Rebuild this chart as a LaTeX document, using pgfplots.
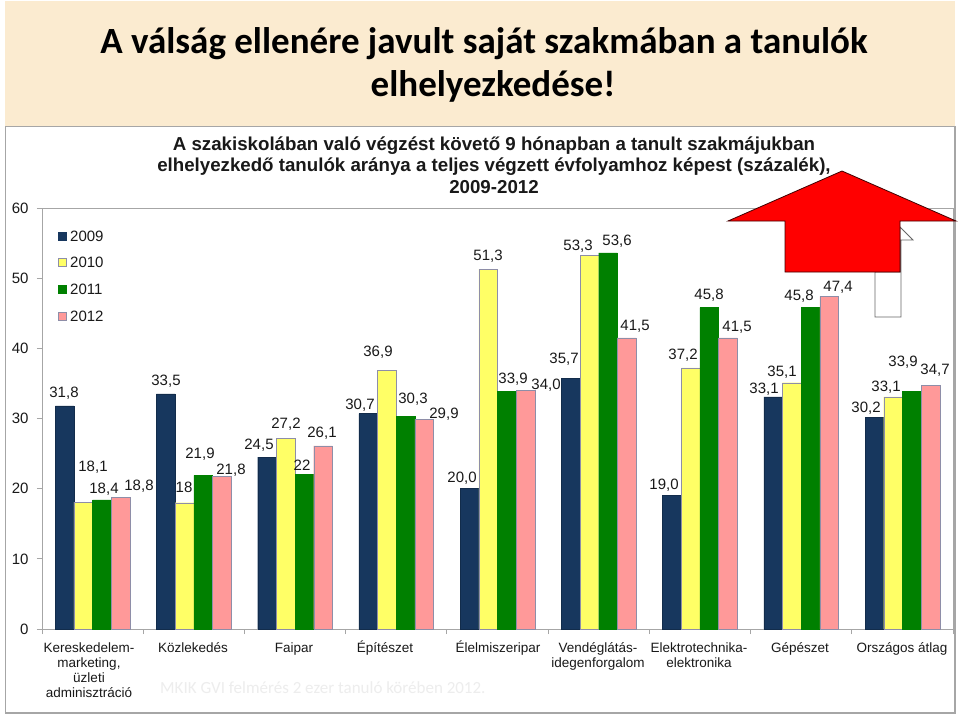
\documentclass[border=0pt]{standalone}
\usepackage{pgfplots}
\pgfplotsset{compat=1.18}
\usepackage{fontspec}
\setmainfont{Liberation Sans}
\newfontfamily\carlito{Carlito}
\definecolor{navy}{HTML}{17375E}
\definecolor{yel}{HTML}{FFFF66}
\definecolor{grn}{HTML}{008000}
\definecolor{pnk}{HTML}{FF9999}
\definecolor{band}{HTML}{FBEBD0}
\definecolor{edge}{HTML}{8E8EA8}
\pgfplotstableread{
x y09 y10 y11 y12
0 31.8 18.1 18.4 18.8
1 33.5 18.0 21.9 21.8
2 24.5 27.2 22.0 26.1
3 30.7 36.9 30.3 29.9
4 20.0 51.3 33.9 34.0
5 35.7 53.3 53.6 41.5
6 19.0 37.2 45.8 41.5
7 33.1 35.1 45.8 47.4
8 30.2 33.1 33.9 34.7
}\datatable
\newcommand{\lab}[3]{\node[font=\fontsize{15}{15}\selectfont,anchor=center,inner sep=0pt,text=black!90] at (#1,#2) {#3};}
\newcommand{\cat}[3]{\node[font=\fontsize{13.5}{15}\selectfont,anchor=north,align=center,inner sep=0pt,text=black!90] at (#1,#2) {\rule{0pt}{13pt}#3};}
\begin{document}
\begin{tikzpicture}[x=1pt,y=-1pt]
\useasboundingbox (0,0) rectangle (960,716);
\fill[white] (0,0) rectangle (960,716);
\fill[band] (5,1) rectangle (955,126);
\draw[gray!70,line width=1.2pt] (5.5,713) -- (5.5,126.5) -- (955,126.5) -- (955,713) -- cycle;
\node[font=\carlito\bfseries\fontsize{37}{43}\selectfont,align=center,text=black] at (484,64.5) {A válság ellenére javult saját szakmában a tanulók\\\hspace*{18pt}elhelyezkedése!};
\node[font=\bfseries\fontsize{18.7}{21.5}\selectfont,align=center,text=black!90] at (494,165) {A szakiskolában való végzést követő 9 hónapban a tanult szakmájukban\\elhelyezkedő tanulók aránya a teljes végzett évfolyamhoz képest (százalék),\\2009-2012};
\begin{axis}[
  at={(42pt,-629pt)},anchor=south west,
  scale only axis,width=911pt,height=421pt,
  xmin=-0.5,xmax=8.5,ymin=0,ymax=60,
  ybar,bar width=18.7pt,
  ytick={0,10,...,60},xtick={-0.5,0.5,...,8.5},xticklabels={},
  axis line style={gray!70,line width=0.8pt},
  tick style={gray!70,line width=0.8pt},
  tick align=outside,major tick length=5pt,
  xtick pos=bottom,ytick pos=left,
  yticklabel style={font=\fontsize{15}{15}\selectfont,text=black!90,xshift=-5pt},
  /pgf/number format/assume math mode=true,
  clip=false,
]
\addplot[ybar,bar shift=-28pt,fill=navy,draw=navy!80!black] table[x=x,y=y09] {\datatable};
\addplot[ybar,bar shift=-9.35pt,fill=yel,draw=edge] table[x=x,y=y10] {\datatable};
\addplot[ybar,bar shift=9.35pt,fill=grn,draw=grn] table[x=x,y=y11] {\datatable};
\addplot[ybar,bar shift=28pt,fill=pnk,draw=edge] table[x=x,y=y12] {\datatable};
\end{axis}
% legend
\foreach \yy/\cc/\dd/\nn in {236/navy/navy/2009,262/yel/edge/2010,289/grn/grn/2011,316/pnk/edge/2012}{
  \filldraw[fill=\cc,draw=\dd] (58.5,\yy-4) rectangle (66.5,\yy+4);
  \node[font=\fontsize{15}{15}\selectfont,anchor=west,inner sep=0pt,text=black!90] at (70,\yy) {\nn};
}
% value labels
\lab{64}{393}{31,8}\lab{93}{467}{18,1}\lab{104}{489}{18,4}\lab{139}{486}{18,8}
\lab{166}{381}{33,5}\lab{184}{487}{18}\lab{200}{454}{21,9}\lab{231}{470}{21,8}
\lab{259}{445}{24,5}\lab{286}{424}{27,2}\lab{302}{465}{22}\lab{322}{433}{26,1}
\lab{360}{405}{30,7}\lab{378}{352}{36,9}\lab{413}{399}{30,3}\lab{444}{414}{29,9}
\lab{462}{478}{20,0}\lab{488}{256}{51,3}\lab{513}{379}{33,9}\lab{546}{385}{34,0}
\lab{564}{359}{35,7}\lab{578}{246}{53,3}\lab{617}{241}{53,6}\lab{635}{326}{41,5}
\lab{664}{485}{19,0}\lab{683}{355}{37,2}\lab{709}{295}{45,8}\lab{737}{327}{41,5}
\lab{764}{389}{33,1}\lab{782}{372}{35,1}\lab{799}{296}{45,8}\lab{838}{287}{47,4}
\lab{866}{408}{30,2}\lab{886}{387}{33,1}\lab{903}{362}{33,9}\lab{935}{370}{34,7}
% category labels
\cat{89}{639}{Kereskedelem-\\marketing,\\üzleti\\adminisztráció}
\cat{193}{639}{Közlekedés}\cat{294}{639}{Faipar}\cat{385}{639}{Építészet}\cat{498}{639}{Élelmiszeripar}
\cat{598}{639}{Vendéglátás-\\idegenforgalom}\cat{699}{639}{Elektrotechnika-\\elektronika}\cat{800}{639}{Gépészet}\cat{902}{639}{Országos átlag}
\node[font=\carlito\fontsize{17}{17}\selectfont,text=black!7,anchor=west,inner sep=0pt] at (160,688) {MKIK GVI felmérés 2 ezer tanuló körében 2012.};
% arrow
\filldraw[fill=white,draw=black!60,line width=0.8pt] (875,272) -- (875,317) -- (901,317) -- (901,240) -- (913,240) -- (900,227) -- (900,272) -- cycle;
\filldraw[fill=red,draw=black!75!red,line width=0.8pt] (842,171) -- (956,221) -- (900,221) -- (900,272) -- (785,272) -- (785,221) -- (728,221) -- cycle;
\end{tikzpicture}
\end{document}
